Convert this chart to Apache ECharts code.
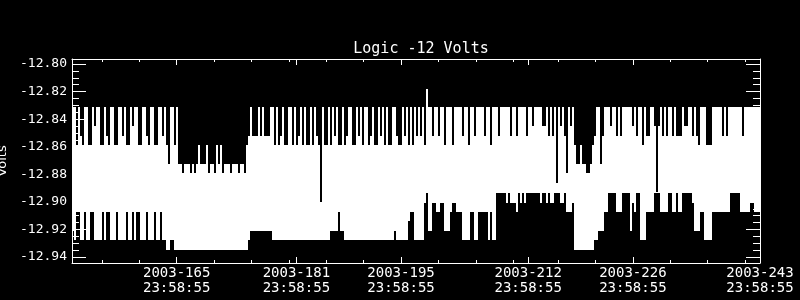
<!DOCTYPE html>
<html>
<head>
<meta charset="utf-8">
<script src="https://cdn.jsdelivr.net/npm/echarts@6/dist/echarts.min.js"></script>
<style>
html,body{margin:0;padding:0;background:#000;}
#chart{width:800px;height:300px;}
</style>
</head>
<body>
<div id="chart"></div>
<script>
// ---- data ----
const titleText = 'Logic -12 Volts';
const yName = 'Volts';
// x axis: days after 2003-151 23:58:55
const xMin = 0, xMax = 92;
const majorDays = [14, 30, 44, 61, 75, 92];
const xTickLabels = ['2003-165\n23:58:55', '2003-181\n23:58:55', '2003-195\n23:58:55',
                     '2003-212\n23:58:55', '2003-226\n23:58:55', '2003-243\n23:58:55'];
const minorDays = [4, 9, 19, 24, 29, 34, 39, 49, 54, 59, 65, 70, 80, 85, 90];
const yMin = -12.94435, yMax = -12.79637;
const yTicks = [-12.94, -12.92, -12.90, -12.88, -12.86, -12.84, -12.82, -12.80];
const yMinorTicks = [-12.935, -12.93, -12.925, -12.915, -12.91, -12.905, -12.895, -12.89, -12.885,
  -12.875, -12.87, -12.865, -12.855, -12.85, -12.845, -12.835, -12.83, -12.825, -12.815, -12.81, -12.805];
// quantised voltage levels of the sensor (codes y,x,0..9,A..F)
const levelCodes = ['y','x','0','1','2','3','4','5','6','7','8','9','A','B','C','D','E','F'];
const levelVolts = [-12.8178, -12.8247, -12.8315, -12.8383, -12.8452, -12.8520, -12.8588, -12.8657,
  -12.8725, -12.8793, -12.8862, -12.8930, -12.8998, -12.9067, -12.9135, -12.9203, -12.9272, -12.9340];
// time bins (344 bins over the 92 days); per bin: highest and lowest level reached
const binCount = 344;
const topDefault = '0';
const topSegs = [
  [0,   '00403400440200440340044003044020044003400440030460040'],
  [53,  '6676667676466647667464766676667667'],
  [87,  '4303330303330'],
  [100, '040430440040430404404034A0440'],
  [129, '403044043004403040043044030404400344030404030304y0'],
  [179, '0300300400040000300400300003004000300000300300003002000'],
  [234, '022030308020370204'],
  [252, '664667764'],
  [261, '30063000200303000002030'],
  [284, '040330029203030030333022003034'],
  [314, '000444000003030000000300000000']
];
const bottomDefault = 'E';
const bottomSegs = [
  [0,   'DEBBEEBEEBBEEEEBEBBEEEBEEEEBEEBEBBEEEBEEEBEEBEE'],
  [47,  'FFEEFF'],
  [53,  'FFFFFFFFFFFFFFFFFFFFFFFFFFFFFFFFFFF'],
  [88,  'EDDDDDDDDDDD'],
  [129, 'DDDDBDD'],
  [161, 'D'],
  [168, 'CBBEEEEEA9DDAABBAADDDBAABBBEEEEBBEEBBBBBEBEE99999A9AAAB9A9A9999999A99A9AA999AA9BBBAFFFFFFFFFFEEDDDBB9999BBB9999DAB99EEEBBBB999BBBB99BB9BB99999ADDDBBEEEEBBBBBBBBB99999BBBBBAABBB']
];

// ---- build ----
function expand(segs, def) {
  const arr = new Array(binCount).fill(def);
  segs.forEach(([start, s]) => {
    for (let k = 0; k < s.length && start + k < binCount; k++) arr[start + k] = s[k];
  });
  return arr;
}
const tops = expand(topSegs, topDefault);
const bots = expand(bottomSegs, bottomDefault);
const volt = c => levelVolts[levelCodes.indexOf(c)];
const binDays = (xMax - xMin) / binCount;
const bins = [];
for (let i = 0; i < binCount; i++) {
  bins.push([xMin + i * binDays, xMin + (i + 1) * binDays, volt(tops[i]), volt(bots[i])]);
}
const labelMap = {};
majorDays.forEach((d, i) => labelMap[d] = xTickLabels[i]);

const W = '#ffffff';
const monoFont = 'DejaVu Sans Mono';
function xAx(pos, ticks, len, labels, line) {
  return {
    type: 'value', position: pos, min: xMin, max: xMax,
    splitLine: {show: false},
    axisLine: {show: line, onZero: false, lineStyle: {color: W, width: 1}},
    axisTick: {show: true, inside: true, length: len, customValues: ticks, lineStyle: {color: W, width: 1}},
    axisLabel: labels ? {show: true, customValues: ticks, color: W, fontFamily: monoFont, fontSize: 14,
      lineHeight: 15, margin: 3, hideOverlap: false, formatter: v => labelMap[Math.round(v)] || ''} : {show: false}
  };
}
function yAx(pos, ticks, len, labels, line) {
  const a = {
    type: 'value', position: pos, min: yMin, max: yMax,
    splitLine: {show: false},
    axisLine: {show: line, onZero: false, lineStyle: {color: W, width: 1}},
    axisTick: {show: true, inside: true, length: len, customValues: ticks, lineStyle: {color: W, width: 1}},
    axisLabel: labels ? {show: true, customValues: ticks, color: W, fontFamily: monoFont, fontSize: 13,
      margin: 5, formatter: v => v.toFixed(2)} : {show: false}
  };
  if (labels) {
    a.name = yName; a.nameLocation = 'middle'; a.nameGap = 56;
    a.nameTextStyle = {color: W, fontFamily: 'DejaVu Sans', fontSize: 13};
  }
  return a;
}

const chart = echarts.init(document.getElementById('chart'), null, {renderer: 'canvas'});
chart.setOption({
  backgroundColor: '#000',
  animation: false,
  title: {
    text: titleText, left: 416, top: 37, textAlign: 'center',
    textStyle: {color: W, fontFamily: monoFont, fontSize: 15, fontWeight: 'normal'}
  },
  grid: {left: 72, right: 40, top: 59, bottom: 37, containLabel: false, outerBoundsMode: 'none'},
  xAxis: [
    xAx('bottom', majorDays, 6, true, true),
    xAx('bottom', minorDays, 3, false, false),
    xAx('top', majorDays, 6, false, true),
    xAx('top', minorDays, 3, false, false)
  ],
  yAxis: [
    yAx('left', yTicks, 14, true, true),
    yAx('left', yMinorTicks, 7, false, false),
    yAx('right', yTicks, 14, false, true),
    yAx('right', yMinorTicks, 7, false, false)
  ],
  series: [{
    type: 'custom',
    xAxisIndex: 0, yAxisIndex: 0,
    clip: true,
    encode: {x: [0, 1], y: [2, 3]},
    data: bins,
    renderItem: (params, api) => {
      const p1 = api.coord([api.value(0), api.value(2)]);
      const p2 = api.coord([api.value(1), api.value(3)]);
      const x0 = Math.round(p1[0]), x1 = Math.round(p2[0]);
      const y0 = Math.round(p1[1]), y1 = Math.round(p2[1]);
      return {type: 'rect', shape: {x: x0, y: y0, width: x1 - x0, height: y1 - y0 + 1},
              style: {fill: W}};
    }
  }]
});
</script>
</body>
</html>
